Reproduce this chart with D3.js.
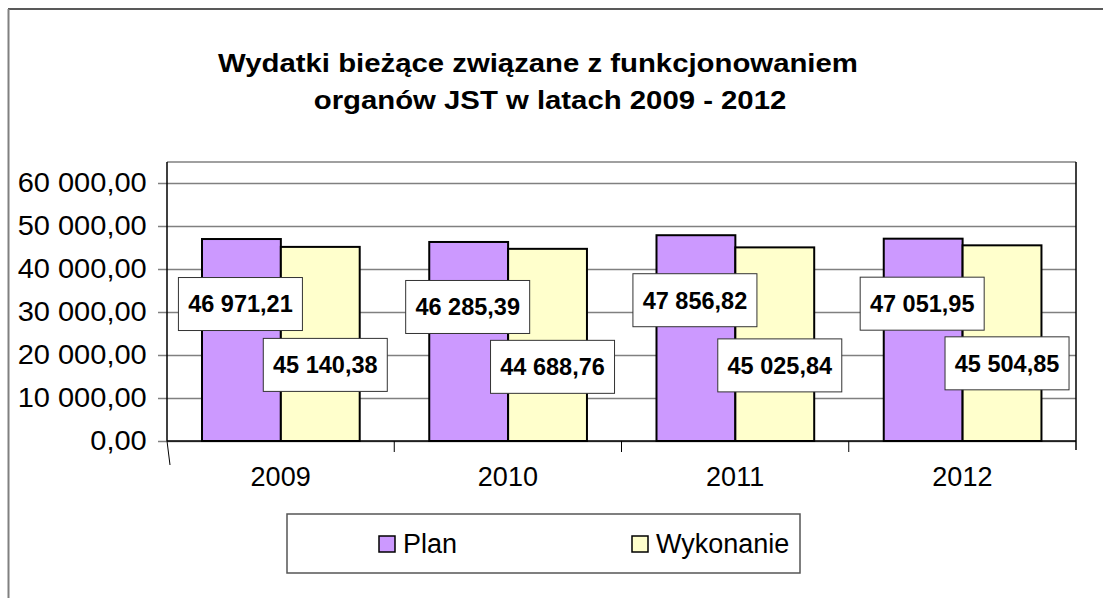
<!DOCTYPE html>
<head>
  <meta charset="utf-8">
  <title>Wydatki bieżące</title>
  <style>
    body { margin: 0; background: #fff; }
    text { font-family: Arial, "Liberation Sans", sans-serif; fill: #000; }
    .grid line { stroke: #808080; stroke-width: 1.5; }
    .grid .domain { display: none; }
  </style>
</head>
<body>
  <svg id="chart" width="1103" height="598"></svg>

  <script src="https://d3js.org/d3.v7.min.js"></script>
  <script>

    /******* Data *******/
    var years = ["2009", "2010", "2011", "2012"];
    var seriesNames = ["Plan", "Wykonanie"];
    var planValues = [46971.21, 46285.39, 47856.82, 47051.95];
    var wykonanieValues = [45140.38, 44688.76, 45025.84, 45504.85];
    var yTicks = [0, 10000, 20000, 30000, 40000, 50000, 60000];
    var titleLines = ["Wydatki bieżące związane z funkcjonowaniem", "organów JST w latach 2009 - 2012"];

    var colors = {"Plan": "#cc99ff", "Wykonanie": "#ffffcc"};

    //Polish number format: "46 971,21"
    var pl = d3.formatLocale({decimal: ",", thousands: " ", grouping: [3], currency: ["", " zł"]});
    var fmt = pl.format(",.2f");

    var data = years.map(function(y, i) {
      return {year: y, Plan: planValues[i], Wykonanie: wykonanieValues[i]};
    });

    /******* Layout *******/
    var svg = d3.select("#chart");
    var plot = {left: 167, right: 1076, top: 162, bottom: 441};

    //outer chart frame (cropped by the picture)
    svg.append("line").attr("x1", 8).attr("x2", 1103).attr("y1", 9).attr("y2", 9)
      .attr("stroke", "#222").attr("stroke-width", 1.5);
    svg.append("line").attr("x1", 8.5).attr("x2", 8.5).attr("y1", 9).attr("y2", 598)
      .attr("stroke", "#808080").attr("stroke-width", 2);

    //Title (the original font is a bit stretched horizontally)
    svg.append("g")
      .attr("transform", "translate(538,0) scale(1.107,1)")
      .append("text")
      .attr("text-anchor", "middle")
      .attr("font-weight", "bold")
      .attr("font-size", 26.5)
      .selectAll("tspan")
      .data(titleLines)
      .enter().append("tspan")
      .attr("x", function(d, i) { return i == 0 ? 0 : 12 / 1.107; })
      .attr("y", function(d, i) { return 72 + i * 37; })
      .text(function(d) { return d; });

    //Scales
    var x0 = d3.scaleBand()
      .domain(years)
      .range([plot.left, plot.right]);

    var x1 = d3.scaleBand()
      .domain(seriesNames)
      .range([x0.bandwidth() * 0.154, x0.bandwidth() * 0.848]);

    var y = d3.scaleLinear()
      .domain([0, 60000])
      .range([plot.bottom, 183]);

    //Gridlines + y tick labels
    svg.append("g")
      .attr("class", "grid")
      .attr("transform", "translate(158,0)")
      .call(d3.axisLeft(y)
        .tickValues(yTicks)
        .tickSize(-(plot.right - 158))
        .tickPadding(10.5)
        .tickFormat(fmt))
      .selectAll("text")
      .attr("font-size", 27)
      .attr("font-family", "Arial, 'Liberation Sans', sans-serif")
      .attr("fill", "#000")
      .attr("transform", "scale(1.075,1)");

    //Plot area frame
    svg.append("line").attr("x1", plot.left).attr("x2", plot.right).attr("y1", plot.top).attr("y2", plot.top)
      .attr("stroke", "#808080").attr("stroke-width", 1.5);
    svg.append("line").attr("x1", plot.left).attr("x2", plot.left).attr("y1", plot.top).attr("y2", plot.bottom)
      .attr("stroke", "#000").attr("stroke-width", 1.5);
    svg.append("line").attr("x1", plot.right).attr("x2", plot.right).attr("y1", plot.top).attr("y2", plot.bottom + 9)
      .attr("stroke", "#000").attr("stroke-width", 1.5);
    svg.append("line").attr("x1", plot.left).attr("x2", plot.right).attr("y1", plot.bottom).attr("y2", plot.bottom)
      .attr("stroke", "#000").attr("stroke-width", 1.5);

    //Category boundary ticks below the axis
    var bounds = years.map(function(d) { return x0(d); }).slice(1);
    svg.append("g").selectAll("line")
      .data(bounds)
      .enter().append("line")
      .attr("x1", function(d) { return d; })
      .attr("x2", function(d) { return d; })
      .attr("y1", plot.bottom)
      .attr("y2", plot.bottom + 11)
      .attr("stroke", "#000");
    svg.append("line")
      .attr("x1", plot.left).attr("y1", plot.bottom)
      .attr("x2", plot.left + 3).attr("y2", plot.bottom + 24)
      .attr("stroke", "#000");

    //X labels
    var xAxis = svg.append("g")
      .attr("transform", "translate(0," + plot.bottom + ")")
      .call(d3.axisBottom(x0).tickSize(0).tickPadding(26));
    xAxis.select(".domain").remove();
    xAxis.selectAll("text")
      .attr("font-size", 27)
      .attr("font-family", "Arial, 'Liberation Sans', sans-serif")
      .attr("fill", "#000");

    //Bars
    var groups = svg.append("g")
      .selectAll("g")
      .data(data)
      .enter().append("g")
      .attr("transform", function(d) { return "translate(" + x0(d.year) + ",0)"; });

    groups.selectAll("rect")
      .data(function(d) {
        return seriesNames.map(function(key) { return {key: key, value: d[key]}; });
      })
      .enter().append("rect")
      .attr("x", function(d) { return x1(d.key); })
      .attr("y", function(d) { return y(d.value); })
      .attr("width", x1.bandwidth())
      .attr("height", function(d) { return y(0) - y(d.value); })
      .attr("fill", function(d) { return colors[d.key]; })
      .attr("stroke", "#000")
      .attr("stroke-width", 2);

    //Value labels in white boxes
    var labelOffset = {"Plan": {dx: -1, dy: 65}, "Wykonanie": {dx: 5, dy: 118}};
    var labels = groups.selectAll(".lbl")
      .data(function(d) {
        return seriesNames.map(function(key) { return {key: key, value: d[key]}; });
      })
      .enter().append("g")
      .attr("class", "lbl")
      .attr("transform", function(d) {
        var cx = x1(d.key) + x1.bandwidth() / 2 + labelOffset[d.key].dx;
        var cy = y(d.value) + labelOffset[d.key].dy;
        return "translate(" + cx + "," + cy + ")";
      });

    labels.append("rect")
      .attr("x", -62)
      .attr("y", -26.5)
      .attr("width", 124)
      .attr("height", 53)
      .attr("fill", "#fff")
      .attr("stroke", "#333")
      .attr("stroke-width", 1);

    labels.append("text")
      .attr("text-anchor", "middle")
      .attr("dy", "0.36em")
      .attr("font-size", 23.5)
      .attr("font-weight", "bold")
      .text(function(d) { return fmt(d.value); });

    //Legend
    var legendBox = svg.append("g");
    legendBox.append("rect")
      .attr("x", 287).attr("y", 514)
      .attr("width", 513).attr("height", 59)
      .attr("fill", "#fff")
      .attr("stroke", "#555")
      .attr("stroke-width", 1.5);

    var legend = legendBox.selectAll(".leg")
      .data(seriesNames)
      .enter().append("g")
      .attr("class", "leg")
      .attr("transform", function(d, i) { return "translate(" + (379 + i * 253) + ",536)"; });

    legend.append("rect")
      .attr("width", 16).attr("height", 16)
      .attr("fill", function(d) { return colors[d]; })
      .attr("stroke", "#000")
      .attr("stroke-width", 1.5);

    legend.append("text")
      .attr("x", 24)
      .attr("y", 17)
      .attr("font-size", 27)
      .text(function(d) { return d; });

  </script>
</body>
